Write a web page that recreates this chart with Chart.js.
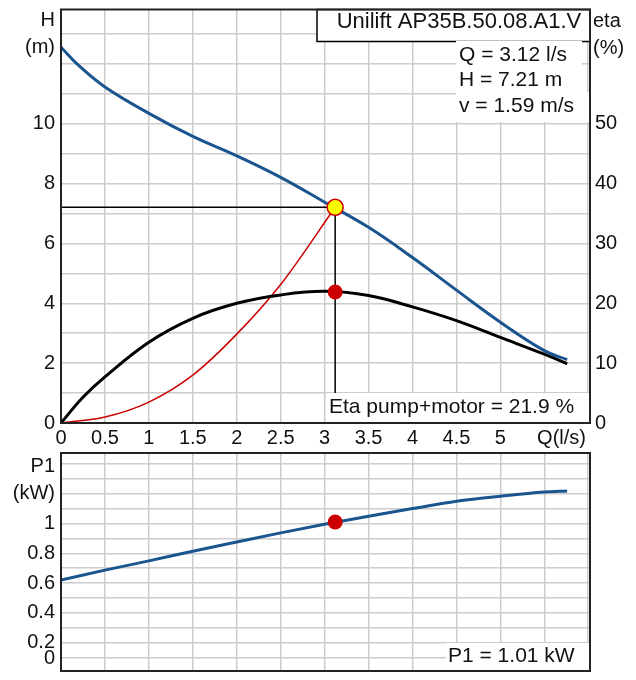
<!DOCTYPE html>
<html>
<head>
<meta charset="utf-8">
<title>Unilift AP35B.50.08.A1.V</title>
<script src="https://cdn.jsdelivr.net/npm/chart.js@4.4.1/dist/chart.umd.min.js"></script>
<style>
    body { margin: 0; background: #fff; }
    #wrap { position: relative; width: 636px; height: 680px; }
    #curveChart { position: absolute; left: 0; top: 0; }
    #powerChart { position: absolute; left: 0; top: 440px; }
</style>
</head>
<body>
<div id="wrap">
    <canvas id="curveChart" width="636" height="450"></canvas>
    <canvas id="powerChart" width="636" height="240"></canvas>
</div>
<script>
// Pump curve (H over Q)
const headFlow = [0, 0.2, 0.5, 1, 1.5, 2, 2.5, 3, 3.5, 4, 4.5, 5, 5.5, 5.76];
const headValues = [12.56, 11.95, 11.23, 10.35, 9.58, 8.93, 8.21, 7.38, 6.54, 5.53, 4.44, 3.37, 2.42, 2.12];

// Efficiency pump+motor (%)
const etaFlow = [0, 0.25, 0.5, 1, 1.5, 2, 2.5, 3, 3.5, 4, 4.5, 5, 5.5, 5.76];
const etaValues = [0, 4.3, 7.7, 13.5, 17.5, 20.0, 21.4, 22.0, 21.3, 19.4, 17.1, 14.3, 11.5, 9.9];

// System curve through the duty point
const systemFlow = [0, 0.5, 1, 1.5, 2, 2.5, 3.12];
const systemHead = [0, 0.2, 0.7, 1.6, 2.97, 4.63, 7.21];

// Power input P1 (kW)
const powerFlow = [0, 0.5, 1, 1.5, 2, 2.5, 3, 3.5, 4, 4.5, 5, 5.5, 5.76];
const powerValues = [0.62, 0.687, 0.749, 0.814, 0.876, 0.937, 0.995, 1.049, 1.10, 1.149, 1.183, 1.211, 1.218];

// Duty point
const pumpName = 'Unilift AP35B.50.08.A1.V';
const dutyFlow = 3.12;
const dutyHead = 7.21;
const dutyVelocity = 1.59;
const dutyEta = 21.9;
const dutyPower = 1.01;

const colors = {
    blue: '#1a5590',
    black: '#000000',
    red: '#cc0000',
    yellow: '#ffff00',
    grid: '#cccccc',
    text: '#111111',
    frame: '#222222'
};

const FONT_FAMILY = '"Liberation Sans", Arial, sans-serif';
const AXIS_FONT = '20px ' + FONT_FAMILY;
const BOX_FONT = '21px ' + FONT_FAMILY;
const TITLE_FONT = '22px ' + FONT_FAMILY;

Chart.defaults.font.family = FONT_FAMILY;
Chart.defaults.font.size = 20;
Chart.defaults.color = colors.text;

function toPoints(xs, ys) {
    return xs.map((x, i) => ({ x: x, y: ys[i] }));
}

function fixSize(prop, size) {
    return scale => {
        scale[prop] = size;
        scale.paddingTop = 0;
        scale.paddingBottom = 0;
        scale.paddingLeft = 0;
        scale.paddingRight = 0;
    };
}

const gridStyle = { color: colors.grid, lineWidth: 1.5, drawTicks: false };

function textBox(ctx, text, x, y, x0, y0, x1, y1) {
    ctx.fillStyle = '#fff';
    ctx.fillRect(x0, y0, x1 - x0, y1 - y0);
    ctx.fillStyle = colors.text;
    ctx.fillText(text, x, y);
}

const curveLabels = {
    id: 'curveLabels',
    afterDraw(chart) {
        const ctx = chart.ctx;
        const a = chart.chartArea;
        ctx.save();
        ctx.font = AXIS_FONT;
        ctx.textBaseline = 'middle';
        ctx.fillStyle = colors.text;

        ctx.textAlign = 'right';
        ctx.fillText('H', 55, 20);
        ctx.fillText('(m)', 55, 47);
        ctx.textAlign = 'left';
        ctx.fillText('eta', 593, 21);
        ctx.fillText('(%)', 593, 48);
        ctx.textAlign = 'right';
        ctx.fillText('Q(l/s)', 586, 438);

        // name box
        ctx.fillStyle = '#fff';
        ctx.fillRect(317, a.top, a.right - 317, 32);
        ctx.strokeStyle = colors.black;
        ctx.lineWidth = 1.5;
        ctx.strokeRect(317, a.top, a.right - 317, 32);
        ctx.font = TITLE_FONT;
        ctx.textAlign = 'center';
        ctx.fillStyle = colors.text;
        ctx.fillText(pumpName, 459, 22);

        // duty point values
        ctx.font = BOX_FONT;
        ctx.textAlign = 'left';
        const lines = [
            'Q = ' + dutyFlow + ' l/s',
            'H = ' + dutyHead + ' m',
            'v = ' + dutyVelocity + ' m/s'
        ];
        const rowY = [55, 80.5, 106];
        lines.forEach((t, i) => {
            const w = ctx.measureText(t).width;
            textBox(ctx, t, 459, rowY[i], 456, rowY[i] - 14, 459 + w + 15, rowY[i] + 16);
        });

        textBox(ctx, 'Eta pump+motor = ' + dutyEta + ' %', 329, 407, 326, 393, a.right, a.bottom);

        ctx.strokeStyle = colors.frame;
        ctx.lineWidth = 2;
        ctx.strokeRect(a.left, a.top, a.right - a.left, a.bottom - a.top);
        ctx.restore();
    }
};

const powerLabels = {
    id: 'powerLabels',
    afterDraw(chart) {
        const ctx = chart.ctx;
        const a = chart.chartArea;
        ctx.save();
        ctx.font = AXIS_FONT;
        ctx.textBaseline = 'middle';
        ctx.fillStyle = colors.text;
        ctx.textAlign = 'right';
        ctx.fillText('P1', 55, 26);
        ctx.fillText('(kW)', 55, 53);
        ctx.fillText('0', 55, 218);

        ctx.font = BOX_FONT;
        ctx.textAlign = 'left';
        textBox(ctx, 'P1 = ' + dutyPower + ' kW', 448, 216, 446, 203, a.right, a.bottom);

        ctx.strokeStyle = colors.frame;
        ctx.lineWidth = 2;
        ctx.strokeRect(a.left, a.top, a.right - a.left, a.bottom - a.top);
        ctx.restore();
    }
};

const commonOptions = {
    responsive: false,
    animation: false,
    events: [],
    plugins: {
        legend: { display: false },
        tooltip: { enabled: false }
    }
};

function curveLine(data, color, width, axis, mode) {
    return {
        data: data,
        yAxisID: axis,
        borderColor: color,
        borderWidth: width,
        pointRadius: 0,
        fill: false,
        cubicInterpolationMode: mode,
        tension: 0.4,
        order: 2
    };
}

function straight(data, axis) {
    return {
        data: data,
        yAxisID: axis,
        borderColor: colors.black,
        borderWidth: 1.5,
        pointRadius: 0,
        fill: false,
        tension: 0,
        order: 3
    };
}

function dot(data, axis, fillColor, radius, borderWidth) {
    return {
        data: data,
        yAxisID: axis,
        showLine: false,
        pointRadius: radius,
        pointBackgroundColor: fillColor,
        pointBorderColor: colors.red,
        pointBorderWidth: borderWidth,
        order: 0
    };
}

new Chart(document.getElementById('curveChart'), {
    type: 'line',
    data: {
        datasets: [
            curveLine(toPoints(headFlow, headValues), colors.blue, 3, 'y', 'default'),
            curveLine(toPoints(etaFlow, etaValues), colors.black, 3, 'y1', 'default'),
            curveLine(toPoints(systemFlow, systemHead), colors.red, 1.5, 'y', 'monotone'),
            straight([{ x: 0, y: dutyHead }, { x: dutyFlow, y: dutyHead }], 'y'),
            straight([{ x: dutyFlow, y: dutyHead }, { x: dutyFlow, y: 0 }], 'y'),
            dot([{ x: dutyFlow, y: dutyHead }], 'y', colors.yellow, 8, 1.5),
            dot([{ x: dutyFlow, y: dutyEta }], 'y1', colors.red, 7.5, 0)
        ]
    },
    options: {
        ...commonOptions,
        layout: { padding: { top: 7, left: 0, right: 0, bottom: 0 } },
        scales: {
            x: {
                type: 'linear',
                min: 0,
                max: 6.02,
                ticks: {
                    stepSize: 0.5,
                    includeBounds: false,
                    autoSkip: false,
                    maxRotation: 0,
                    padding: 3,
                    callback: v => (v <= 5 ? String(v) : '')
                },
                grid: gridStyle,
                border: { display: false },
                afterFit: fixSize('height', 27)
            },
            y: {
                type: 'linear',
                position: 'left',
                min: 0,
                max: 13.82,
                ticks: {
                    stepSize: 1,
                    includeBounds: false,
                    autoSkip: false,
                    padding: 6,
                    callback: v => (v % 2 === 0 && v <= 10 ? String(v) : '')
                },
                grid: gridStyle,
                border: { display: false },
                afterFit: fixSize('width', 61)
            },
            y1: {
                type: 'linear',
                position: 'right',
                min: 0,
                max: 69.1,
                ticks: {
                    stepSize: 10,
                    includeBounds: false,
                    autoSkip: false,
                    padding: 5,
                    callback: v => (v <= 50 ? String(v) : '')
                },
                grid: { drawOnChartArea: false, drawTicks: false },
                border: { display: false },
                afterFit: fixSize('width', 46)
            }
        }
    },
    plugins: [curveLabels]
});

new Chart(document.getElementById('powerChart'), {
    type: 'line',
    data: {
        datasets: [
            curveLine(toPoints(powerFlow, powerValues), colors.blue, 3, 'y', 'monotone'),
            dot([{ x: dutyFlow, y: dutyPower }], 'y', colors.red, 7.5, 0)
        ]
    },
    options: {
        ...commonOptions,
        layout: { padding: { top: 13, left: 0, right: 46, bottom: 0 } },
        scales: {
            x: {
                type: 'linear',
                min: 0,
                max: 6.02,
                ticks: { stepSize: 0.5, includeBounds: false, display: false },
                grid: gridStyle,
                border: { display: false },
                afterFit: fixSize('height', 9)
            },
            y: {
                type: 'linear',
                position: 'left',
                min: 0.01,
                max: 1.473,
                ticks: {
                    stepSize: 0.1,
                    includeBounds: false,
                    autoSkip: false,
                    padding: 6,
                    callback: v => {
                        const r = Math.round(v * 10);
                        return (r >= 2 && r <= 10 && r % 2 === 0) ? String(r / 10) : '';
                    }
                },
                grid: gridStyle,
                border: { display: false },
                afterFit: fixSize('width', 61)
            }
        }
    },
    plugins: [powerLabels]
});
</script>
</body>
</html>
